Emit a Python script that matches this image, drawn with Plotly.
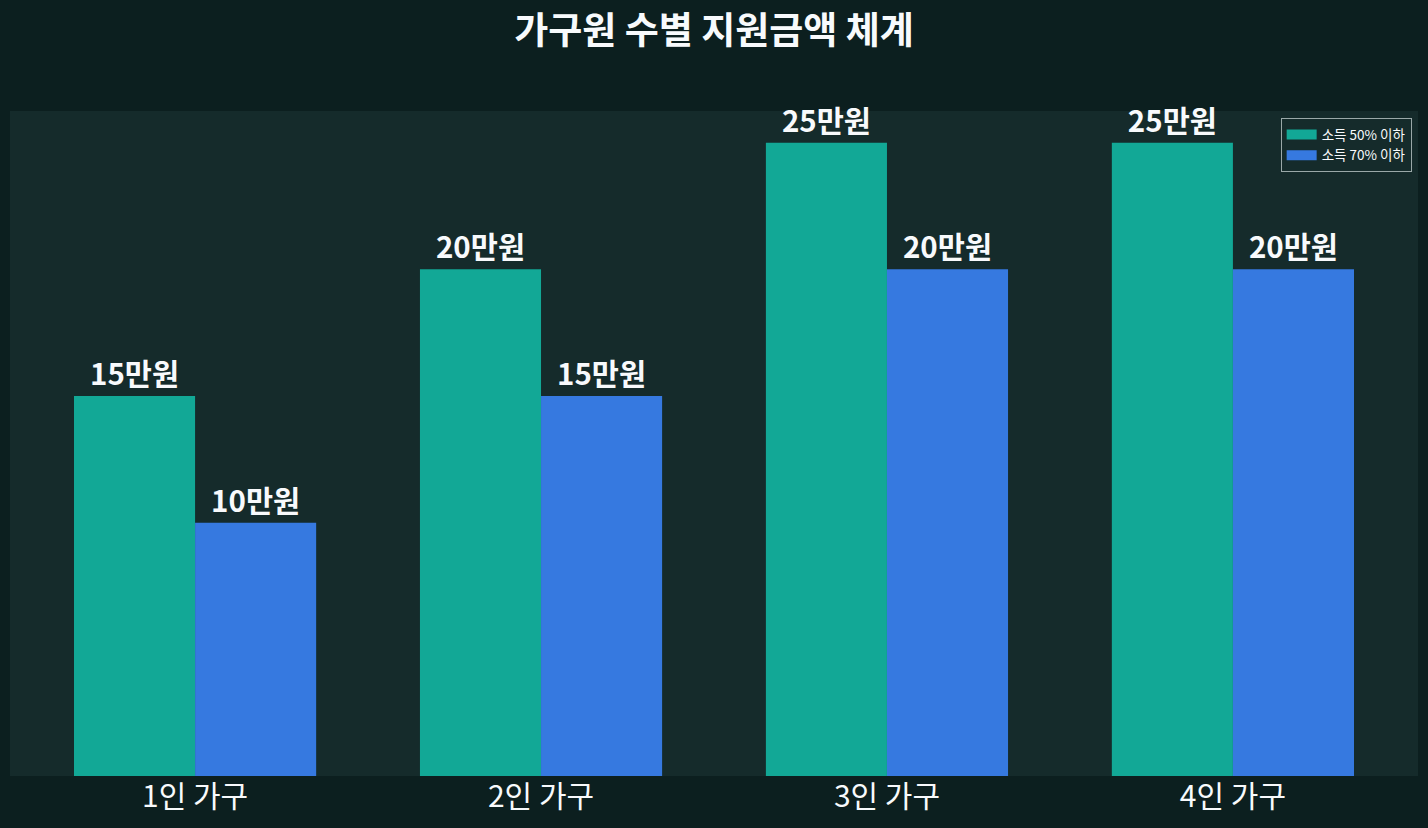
import plotly.graph_objects as go

categories = ["1인 가구", "2인 가구", "3인 가구", "4인 가구"]
series_names = ["소득 50% 이하", "소득 70% 이하"]
income50 = [15, 20, 25, 25]
income70 = [10, 15, 20, 20]
colors = ["#12A896", "#3679E0"]

fig = go.Figure()
for name, vals, c in zip(series_names, [income50, income70], colors):
    fig.add_trace(go.Bar(
        x=categories, y=vals, name=name, marker_color=c, marker_line_width=0,
        text=[f"{v}만원" for v in vals], textposition="outside",
        textfont=dict(family="Noto Sans CJK KR", size=29.5, color="#F8FAFC", weight="bold"),
        cliponaxis=False, showlegend=False,
    ))
# legend swatches as wide rectangles
for name, c in zip(series_names, colors):
    fig.add_trace(go.Scatter(
        x=[None], y=[None], mode="lines", name=name,
        line=dict(color=c, width=10),
    ))

fig.update_layout(
    width=1428, height=828,
    barmode="group", bargap=0.3, bargroupgap=0,
    paper_bgcolor="#0C1F1F", plot_bgcolor="#152B2B",
    font=dict(family="Noto Sans CJK KR", color="#F8FAFC"),
    title=dict(text="<b>가구원 수별 지원금액 체계</b>", x=0.5, xanchor="center", y=0.963, yanchor="middle",
               font=dict(size=37, color="#F8FAFC", family="Noto Sans CJK KR")),
    margin=dict(l=10, r=10, t=111, b=52),
    xaxis=dict(range=[-0.535, 3.535], showgrid=False, zeroline=False, showline=False,
               tickfont=dict(size=30, color="#F8FAFC"), ticks=""),
    yaxis=dict(range=[0, 26.25], showgrid=False, zeroline=False, showticklabels=False, ticks=""),
    legend=dict(x=0.9955, y=0.989, xanchor="right", yanchor="top",
                bgcolor="#152B2B", bordercolor="#9AA8A8", borderwidth=1,
                font=dict(size=13.5, color="#F8FAFC"),
                itemwidth=30),
)
fig.update_traces(constraintext="none", selector=dict(type="bar"))
fig.write_html("out.html", post_script="document.body.style.margin='0';",
               config={"displayModeBar": False})
